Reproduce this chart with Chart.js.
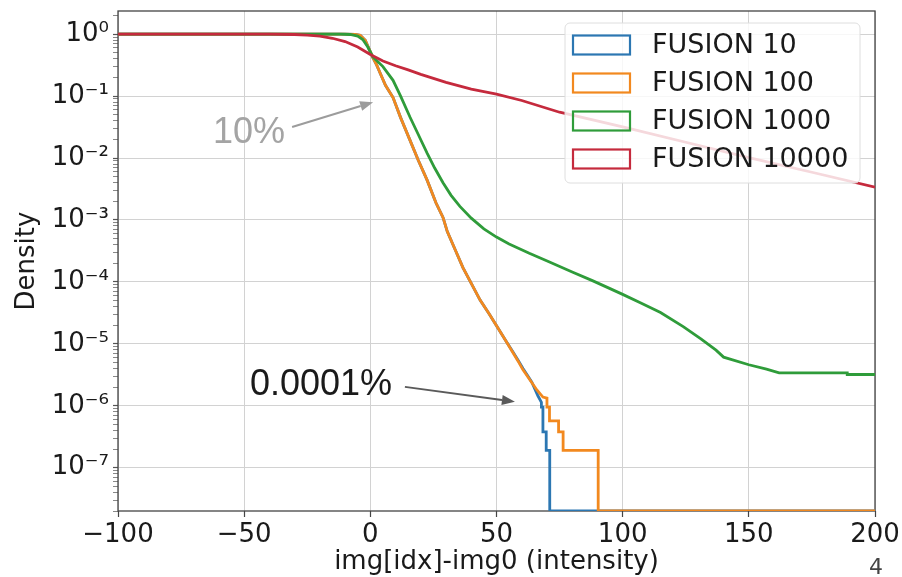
<!DOCTYPE html>
<html>
<head>
<meta charset="utf-8">
<script src="https://cdn.jsdelivr.net/npm/chart.js@4.4.1/dist/chart.umd.min.js"></script>
<style>
  html, body { margin: 0; padding: 0; background: #fff; }
  canvas { display: block; }
</style>
</head>
<body>
<canvas id="densityChart" width="902" height="577"></canvas>
<script>
// axis ticks
var xTicks = [-100, -50, 0, 50, 100, 150, 200];
var xTickLabels = ['\u2212100', '\u221250', '0', '50', '100', '150', '200'];
var yTicks = [1e-7, 1e-6, 1e-5, 1e-4, 1e-3, 1e-2, 1e-1, 1];
var yTickLabels = ['10\u207B\u2077', '10\u207B\u2076', '10\u207B\u2075', '10\u207B\u2074',
                   '10\u207B\u00B3', '10\u207B\u00B2', '10\u207B\u00B9', '10\u2070'];
var yMin = 2e-8, yMax = 2.37;

var seriesNames = ['FUSION 10', 'FUSION 100', 'FUSION 1000', 'FUSION 10000'];
var seriesColors = ['#2c77b2', '#f2891f', '#2f9c3a', '#c52a3d'];

// FUSION 10 (0 = no counts left)
var fusion10X = [-100, -10, -6, -4, -2, 0, 1, 2.5, 4, 6, 9, 12, 15.7, 19, 22.5, 26, 28.8, 30.5, 33.5, 36.7,
                 40, 43.5, 47, 50.2, 53.5, 56.6, 58.5, 60.5, 62.5, 64, 66.4, 67.8, 67.8, 68.4, 68.4, 69.7, 69.7,
                 71.1, 71.1, 200];
var fusion10Y = [1, 1, 0.99, 0.96, 0.8, 0.52, 0.42, 0.32, 0.23, 0.15, 0.095, 0.045, 0.0195, 0.0092, 0.0044,
                 0.0019, 0.0011, 6.5e-4, 3.4e-4, 1.7e-4, 9.5e-5, 5.1e-5, 3.1e-5, 1.9e-5, 1.15e-5, 7.3e-6,
                 5.5e-6, 4.0e-6, 3.0e-6, 2.4e-6, 1.45e-6, 1.14e-6, 9.5e-7, 9.5e-7, 3.8e-7, 3.8e-7, 1.9e-7,
                 1.9e-7, 0, 0];

// FUSION 100
var fusion100X = [-100, -10, -6, -4, -2, 0, 1, 2.5, 4, 6, 9, 12, 15.7, 19, 22.5, 26, 28.8, 30.5, 33.5, 36.7,
                  40, 43.5, 47, 50.2, 53.5, 56.6, 58.5, 60.5, 63, 66, 68.4, 70, 70, 71, 71, 74.6, 74.6, 76.4,
                  76.4, 90.3, 90.3, 200];
var fusion100Y = [1, 1, 0.99, 0.96, 0.8, 0.52, 0.42, 0.32, 0.23, 0.15, 0.095, 0.045, 0.0195, 0.0092, 0.0044,
                  0.0019, 0.0011, 6.5e-4, 3.4e-4, 1.7e-4, 9.5e-5, 5.1e-5, 3.1e-5, 1.9e-5, 1.15e-5, 7.1e-6,
                  5.3e-6, 3.8e-6, 2.7e-6, 1.8e-6, 1.38e-6, 1.33e-6, 9.5e-7, 9.5e-7, 5.7e-7, 5.7e-7, 3.8e-7,
                  3.8e-7, 1.9e-7, 1.9e-7, 0, 0];

// FUSION 1000
var fusion1000X = [-100, -12, -8, -5, -3, -1, 1, 3, 5, 9, 12, 15.7, 19, 22.5, 25.5, 28.8, 32, 35.5, 40, 45,
                   50, 55, 63, 71, 80, 88, 95, 100, 107, 115, 124, 131, 137, 140, 150, 157, 162, 189, 189, 200];
var fusion1000Y = [1, 1, 0.99, 0.93, 0.82, 0.62, 0.43, 0.36, 0.3, 0.18, 0.1, 0.046, 0.024, 0.012, 0.0069,
                   0.004, 0.0025, 0.00166, 0.00107, 7.2e-4, 5.3e-4, 4.1e-4, 2.9e-4, 2.1e-4, 1.45e-4, 1.05e-4,
                   7.8e-5, 6.3e-5, 4.6e-5, 3.2e-5, 1.9e-5, 1.2e-5, 7.9e-6, 6.1e-6, 4.6e-6, 3.9e-6, 3.4e-6,
                   3.4e-6, 3.2e-6, 3.2e-6];

// FUSION 10000
var fusion10000X = [-100, -40, -30, -25, -20, -15, -10, -5, 0, 5, 10, 15, 20, 30, 40, 50, 60, 75, 100, 125,
                    150, 175, 200];
var fusion10000Y = [1, 1, 0.99, 0.97, 0.93, 0.86, 0.76, 0.62, 0.47, 0.37, 0.31, 0.265, 0.225, 0.167, 0.13,
                    0.108, 0.085, 0.055, 0.032, 0.018, 0.0102, 0.0059, 0.0034];

var seriesX = [fusion10X, fusion100X, fusion1000X, fusion10000X];
var seriesY = [fusion10Y, fusion100Y, fusion1000Y, fusion10000Y];

// text notes drawn on the plot, anchored in data units
var notes = [
  { text: '10%', at: [-62.4, 0.0175], from: [-31, 0.0317], to: [1.1, 0.080], color: '#a4a4a4', arrow: '#9c9c9c' },
  { text: '0.0001%', at: [-47.7, 1.5e-6], from: [13.7, 2.02e-6], to: [57.3, 1.16e-6], color: '#1a1a1a', arrow: '#5a5a5a' }
];

function makeData(xs, ys) {
  return xs.map(function (x, i) {
    // zero counts sit on the bottom of the log axis
    return { x: x, y: ys[i] === 0 ? yMin : ys[i] };
  });
}

var datasets = seriesNames.map(function (name, i) {
  return {
    label: name,
    data: makeData(seriesX[i], seriesY[i]),
    borderColor: seriesColors[i],
    backgroundColor: seriesColors[i],
    borderWidth: 2.8,
    pointRadius: 0,
    tension: 0,
    fill: false,
    order: 4 - i
  };
});

function drawArrow(ctx, x1, y1, x2, y2, color) {
  var a = Math.atan2(y2 - y1, x2 - x1), L = 13, W = 5;
  var c = Math.cos(a), s = Math.sin(a);
  ctx.strokeStyle = color;
  ctx.fillStyle = color;
  ctx.lineWidth = 2;
  ctx.beginPath();
  ctx.moveTo(x1, y1);
  ctx.lineTo(x2 - L * c, y2 - L * s);
  ctx.stroke();
  ctx.beginPath();
  ctx.moveTo(x2, y2);
  ctx.lineTo(x2 - L * c + W * s, y2 - L * s - W * c);
  ctx.lineTo(x2 - L * c - W * s, y2 - L * s + W * c);
  ctx.closePath();
  ctx.fill();
}

var framePlugin = {
  id: 'frame',
  beforeDatasetsDraw: function (chart) {
    var ctx = chart.ctx, ca = chart.chartArea;
    ctx.save();
    ctx.strokeStyle = '#444';
    ctx.lineWidth = 1.3;
    ctx.strokeRect(ca.left, ca.top, ca.right - ca.left, ca.bottom - ca.top);
    ctx.restore();
  }
};

var extrasPlugin = {
  id: 'extras',
  afterDraw: function (chart) {
    var ctx = chart.ctx, ca = chart.chartArea;
    var xs = chart.scales.x, ys = chart.scales.y;
    ctx.save();

    // notes and arrows
    notes.forEach(function (n) {
      drawArrow(ctx, xs.getPixelForValue(n.from[0]), ys.getPixelForValue(n.from[1]),
                xs.getPixelForValue(n.to[0]), ys.getPixelForValue(n.to[1]), n.arrow);
      ctx.fillStyle = n.color;
      ctx.font = '36px "Liberation Sans", Arial, sans-serif';
      ctx.textAlign = 'left';
      ctx.textBaseline = 'alphabetic';
      ctx.fillText(n.text, xs.getPixelForValue(n.at[0]), ys.getPixelForValue(n.at[1]));
    });

    // legend
    var lx = ca.right - 310, ly = ca.top + 12, lw = 295, lh = 160;
    ctx.beginPath();
    ctx.roundRect(lx, ly, lw, lh, 5);
    ctx.fillStyle = 'rgba(255,255,255,0.82)';
    ctx.fill();
    ctx.strokeStyle = '#dedede';
    ctx.lineWidth = 1;
    ctx.stroke();
    ctx.font = '27px "DejaVu Sans"';
    ctx.textBaseline = 'middle';
    ctx.textAlign = 'left';
    seriesNames.forEach(function (name, i) {
      var cy = ly + 22 + i * 38;
      ctx.strokeStyle = seriesColors[i];
      ctx.lineWidth = 2.2;
      ctx.strokeRect(lx + 8, cy - 9.5, 57, 19);
      ctx.fillStyle = '#1a1a1a';
      ctx.fillText(name, lx + 87, cy + 1);
    });

    // page number
    ctx.fillStyle = '#444';
    ctx.font = '22px "DejaVu Sans"';
    ctx.textAlign = 'center';
    ctx.textBaseline = 'middle';
    ctx.fillText('4', ca.right + 1, chart.height - 9);
    ctx.restore();
  }
};

var tickFont = { family: 'DejaVu Sans', size: 26 };

var ctx = document.getElementById('densityChart');
var densityChart = new Chart(ctx, {
  type: 'line',
  data: { datasets: datasets },
  options: {
    responsive: false,
    animation: false,
    devicePixelRatio: 1,
    layout: { padding: { top: 11, right: 27, bottom: 0, left: 0 } },
    plugins: { legend: { display: false }, tooltip: { enabled: false } },
    scales: {
      x: {
        type: 'linear',
        min: -100,
        max: 200,
        afterBuildTicks: function (scale) {
          scale.ticks = xTicks.map(function (v) { return { value: v }; });
        },
        afterFit: function (scale) {
          scale.height = 66;
          scale.paddingLeft = 0;
          scale.paddingRight = 0;
        },
        ticks: {
          autoSkip: false,
          maxRotation: 0,
          padding: 3,
          color: '#1a1a1a',
          font: tickFont,
          callback: function (value) { return xTickLabels[xTicks.indexOf(value)]; }
        },
        grid: { color: '#d2d2d2', lineWidth: 1, tickLength: 6, tickColor: '#444', tickWidth: 1.2 },
        border: { display: false },
        title: {
          display: true,
          text: 'img[idx]-img0 (intensity)',
          color: '#1a1a1a',
          font: { family: 'DejaVu Sans', size: 26, lineHeight: 1.15 },
          padding: { top: 0, bottom: 0 }
        }
      },
      y: {
        type: 'logarithmic',
        min: yMin,
        max: yMax,
        afterBuildTicks: function (scale) {
          var ticks = [];
          [1e-8].concat(yTicks).forEach(function (v) {
            for (var k = 1; k <= 9; k++) {
              var t = v * k;
              if (t >= yMin && t <= yMax) ticks.push({ value: t, major: k === 1 });
            }
          });
          scale.ticks = ticks;
        },
        afterFit: function (scale) {
          scale.width = 118;
          scale.paddingTop = 0;
          scale.paddingBottom = 0;
        },
        ticks: {
          autoSkip: false,
          padding: 4,
          color: '#1a1a1a',
          font: tickFont,
          callback: function (value) {
            var i = yTicks.indexOf(value);
            return i >= 0 ? yTickLabels[i] : '';
          }
        },
        grid: {
          color: function (c) { return c.tick && c.tick.major ? '#d2d2d2' : 'rgba(0,0,0,0)'; },
          lineWidth: 1,
          tickLength: 5,
          tickColor: '#555',
          tickWidth: function (c) { return c.tick && c.tick.major ? 1.2 : 0.7; }
        },
        border: { display: false },
        title: {
          display: true,
          text: 'Density',
          color: '#1a1a1a',
          font: { family: 'DejaVu Sans', size: 26, lineHeight: 1.15 },
          padding: { top: 12, bottom: 0 }
        }
      }
    }
  },
  plugins: [framePlugin, extrasPlugin]
});
</script>
</body>
</html>
